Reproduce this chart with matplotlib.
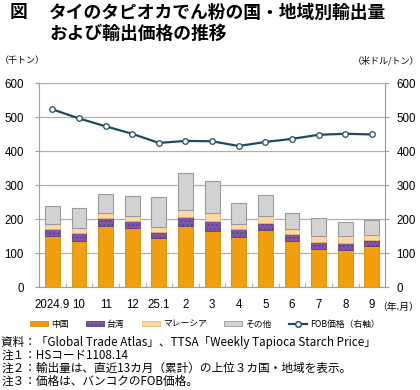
import matplotlib
matplotlib.use("Agg")
import matplotlib.pyplot as plt
import numpy as np
from matplotlib.patches import Patch
from matplotlib.lines import Line2D

plt.rcParams['font.family'] = ['Noto Sans CJK JP', 'DejaVu Sans']
plt.rcParams['hatch.linewidth'] = 0.8

months = ["2024.9", "10", "11", "12", "25.1", "2", "3", "4", "5", "6", "7", "8", "9"]
china = [151, 138, 181, 174, 145, 182, 166, 148, 168, 138, 112, 111, 122]
taiwan = [21, 21, 24, 21, 19, 24, 28, 24, 21, 20, 21, 20, 18]
malaysia = [16, 16, 14, 15, 14, 21, 26, 15, 21, 13, 17, 21, 13]
others = [51, 58, 55, 58, 87, 110, 92, 61, 61, 48, 53, 39, 44]
fob = [524, 497, 474, 452, 425, 431, 430, 416, 428, 437, 449, 452, 450]

c_china = "#F29F0F"
c_taiwan = "#7E57A8"
c_malay = "#FDD9A0"
c_other = "#D3D3D3"
c_line = "#1D4B66"
num_font = ['Liberation Sans', 'DejaVu Sans']

fig = plt.figure(figsize=(4.2, 3.9), dpi=100)
ax = fig.add_axes([0.093, 0.263, 0.824, 0.523])
x = np.arange(len(months))
w = 0.56
b = np.zeros(len(months))
ax.bar(x, china, w, bottom=b, color=c_china, edgecolor="#D98A00", linewidth=0.6, zorder=3)
b += china
ax.bar(x, taiwan, w, bottom=b, color=c_taiwan, edgecolor="#5E3F85", linewidth=0.6,
       hatch="....", zorder=3)
b += taiwan
ax.bar(x, malaysia, w, bottom=b, color=c_malay, edgecolor="#E8B870", linewidth=0.6, zorder=3)
b += malaysia
ax.bar(x, others, w, bottom=b, color=c_other, edgecolor="#9A9A9A", linewidth=0.8, zorder=3)

ax.set_xlim(-0.5, len(months) - 0.5)
ax.set_ylim(0, 600)
ax.set_yticks(range(0, 601, 100))
ax.grid(axis='y', color="#B0B0B0", linewidth=0.9, zorder=0)
ax.spines["top"].set_visible(False)
for s in ["left", "right", "bottom"]:
    ax.spines[s].set_color("#A0A0A0")
ax.set_xticks(x)
ax.set_xticklabels(months, fontsize=8.3)
for lab in ax.get_xticklabels():
    lab.set_family(num_font)
ax.set_xticks(np.arange(-0.5, len(months), 1), minor=True)
ax.tick_params(axis='x', which='major', length=0, pad=8)
ax.tick_params(axis='x', which='minor', length=3, color="#A0A0A0", direction='in')
ax.tick_params(axis='y', labelsize=8.3, length=3, color="#A0A0A0", pad=8)
for lab in ax.get_yticklabels():
    lab.set_family(num_font)

ax2 = ax.twinx()
ax2.set_ylim(0, 600)
ax2.set_yticks(range(0, 601, 100))
ax2.plot(x, fob, color=c_line, linewidth=1.6, marker='o', markersize=4,
         markerfacecolor='white', markeredgecolor=c_line, markeredgewidth=0.9, zorder=5)
for s in ["top", "left", "bottom"]:
    ax2.spines[s].set_visible(False)
ax2.spines["right"].set_color("#A0A0A0")
ax2.tick_params(axis='y', labelsize=8.3, length=3, color="#A0A0A0", pad=5)
for lab in ax2.get_yticklabels():
    lab.set_family(num_font)

fig.text(0.024, 0.968, "図", fontsize=12.8, fontweight='bold', va='center', ha='left')
fig.text(0.117, 0.968, "タイのタピオカでん粉の国・地域別輸出量", fontsize=12.8, fontweight='bold',
         va='center', ha='left')
fig.text(0.117, 0.913, "および輸出価格の推移", fontsize=12.8, fontweight='bold',
         va='center', ha='left')
fig.text(0.0, 0.844, "（千トン）", fontsize=6.5, va='center', ha='left')
fig.text(0.998, 0.844, "（米ドル/トン）", fontsize=6.5, va='center', ha='right')
fig.text(0.997, 0.213, "（年.月）", fontsize=7, va='center', ha='right')

handles = [
    Patch(facecolor=c_china, edgecolor="#D98A00", linewidth=0.6),
    Patch(facecolor=c_taiwan, edgecolor="#5E3F85", linewidth=0.6, hatch="...."),
    Patch(facecolor=c_malay, edgecolor="#E8B870", linewidth=0.6),
    Patch(facecolor=c_other, edgecolor="#9A9A9A", linewidth=0.6),
    Line2D([0], [0], color=c_line, linewidth=1.6, marker='o', markersize=4,
           markerfacecolor='white', markeredgecolor=c_line),
]
labels = ["中国", "台湾", "マレーシア", "その他", "FOB価格（右軸）"]
fig.legend(handles, labels, loc='center', bbox_to_anchor=(0.487, 0.169), ncol=5,
           frameon=False, fontsize=6.3, handlelength=2.1, handleheight=0.6,
           handletextpad=0.3, columnspacing=2.0)

notes = [
    "資料：「Global Trade Atlas」、TTSA「Weekly Tapioca Starch Price」",
    "注１：HSコード1108.14",
    "注２：輸出量は、直近13カ月（累計）の上位３カ国・地域を表示。",
    "注３：価格は、バンコクのFOB価格。",
]
for i, t in enumerate(notes):
    fig.text(0.003, 0.123 - i * 0.0335, t, fontsize=8.4, va='center', ha='left')

fig.savefig("out.png", dpi=100)
